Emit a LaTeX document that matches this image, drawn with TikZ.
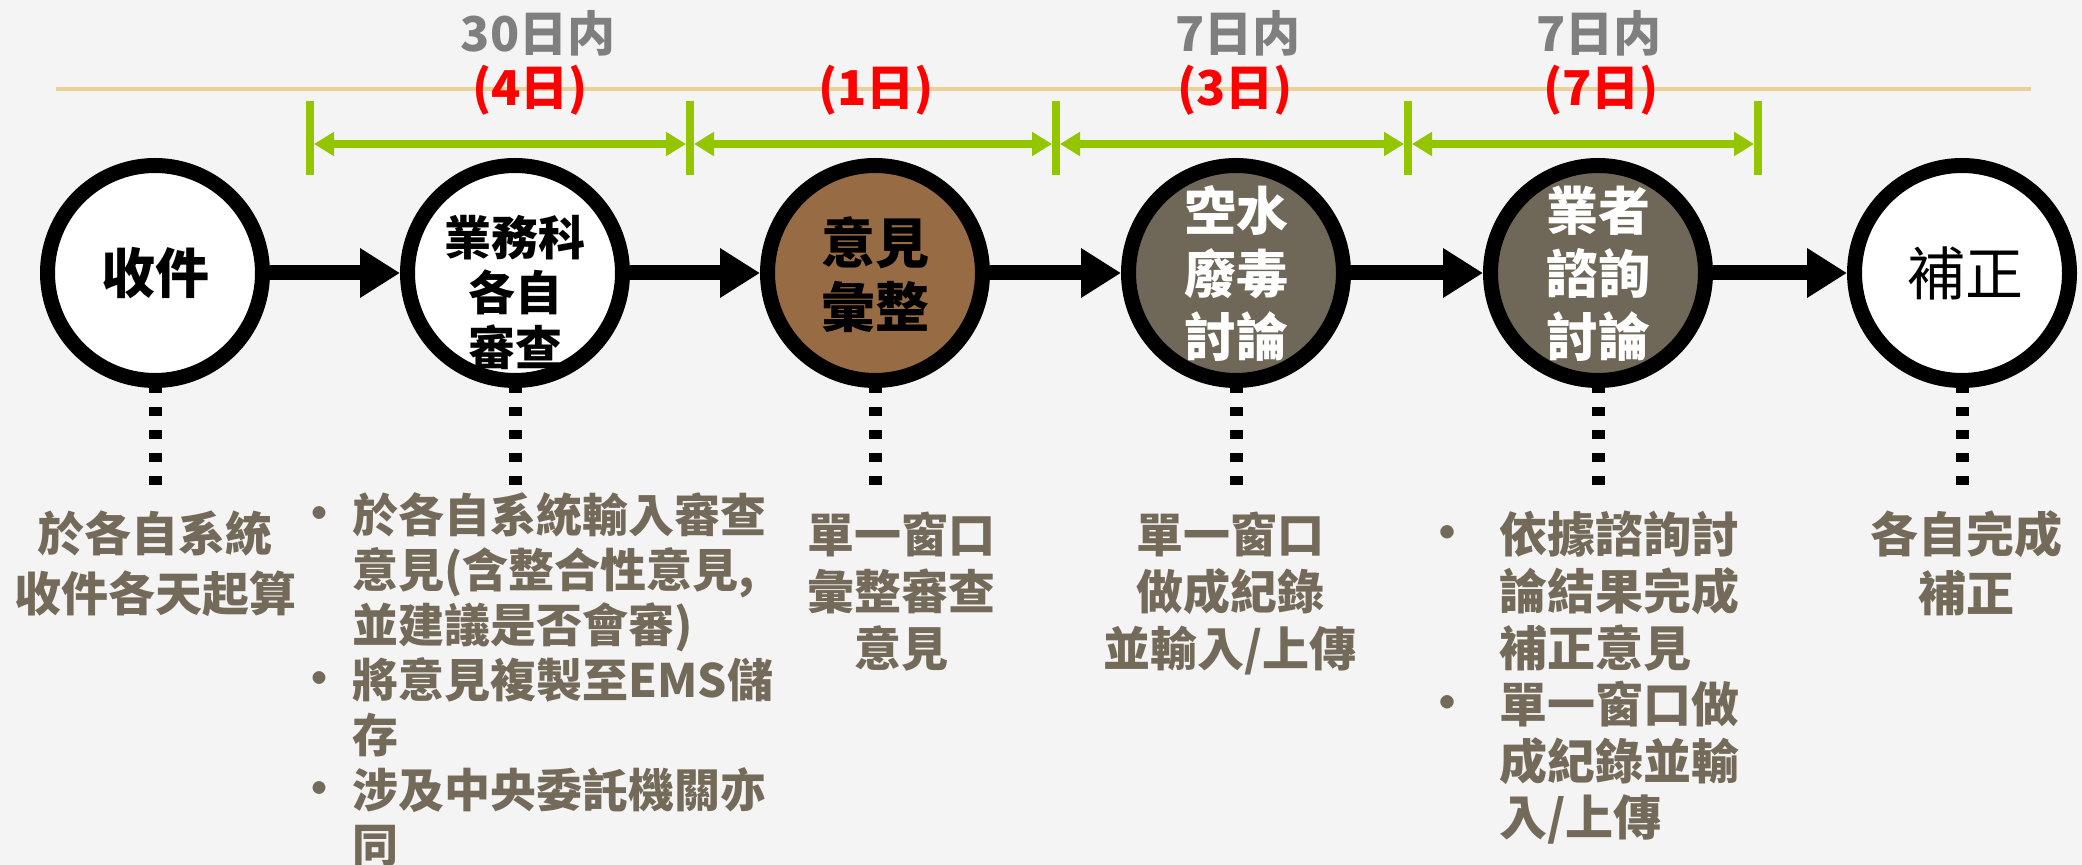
\documentclass[tikz,border=0pt]{standalone}
\usepackage{fontspec}
\setmainfont{Noto Sans CJK TC}
\usetikzlibrary{arrows.meta}
\definecolor{bgc}{HTML}{F4F4F4}
\definecolor{txtc}{HTML}{746A5A}
\definecolor{brownc}{HTML}{976B43}
\definecolor{taupec}{HTML}{6F6757}
\definecolor{greenc}{HTML}{94C600}
\definecolor{tanc}{HTML}{EBD196}
\definecolor{grayc}{HTML}{7F7F7F}
\definecolor{redc}{HTML}{FF0000}
\newcommand\bulA{\makebox[0pt][r]{\raisebox{1pt}{\textbullet}\hspace{5pt}}}
\newcommand\bulB{\makebox[0pt][r]{\raisebox{1pt}{\textbullet}\hspace{14pt}}}
\tikzset{
  fz/.style 2 args={font=\fontsize{#1}{#2}\selectfont\bfseries},
  stage/.style={circle, draw=black, line width=7.5pt, minimum size=107.5pt, inner sep=0pt, fill=white},
  ctext/.style={align=center, inner sep=0pt},
  flow/.style={line width=7.5pt, -{Triangle[length=20pt,width=23.5pt]}},
  dotl/.style={line width=6.5pt, dash pattern=on 4.5pt off 7pt},
  gline/.style={greenc, line width=4pt, {Triangle[length=10pt,width=11.5pt]}-{Triangle[length=10pt,width=11.5pt]}},
  gtick/.style={greenc, line width=4pt},
  tanline/.style={tanc, line width=1.75pt},
  hdrlbl/.style={text=grayc, inner sep=0pt, fz={24pt}{28pt}},
  redlbl/.style={text=redc, inner sep=0pt, fz={24pt}{28pt}},
  desc/.style={text=txtc, inner sep=0pt},
}
\begin{document}
\begin{tikzpicture}[x=0.5pt,y=-0.5pt]
\useasboundingbox[fill=bgc] (0,0) rectangle (2082,865);

% top tan line
\coordinate (tl) at (56,89);
\coordinate (tr) at (2031,89);
\draw[tanline] (tl) -- (tr);

% green brackets
\foreach \i/\x in {1/310,2/690,3/1056,4/1408,5/1758}{
  \coordinate (g\i) at (\x,144);
  \coordinate (gt\i) at (\x,101);
  \coordinate (gb\i) at (\x,175);
  \draw[gtick] (gt\i) -- (gb\i);
}
\draw[gline] ([xshift=2pt]g1) -- ([xshift=-2pt]g2);
\draw[gline] ([xshift=2pt]g2) -- ([xshift=-2pt]g3);
\draw[gline] ([xshift=2pt]g3) -- ([xshift=-2pt]g4);
\draw[gline] ([xshift=2pt]g4) -- ([xshift=-2pt]g5);

% header labels
\node[hdrlbl] (h30) at (538,33) {30日内};
\node[hdrlbl] (h7a) at (1238,33) {7日内};
\node[hdrlbl] (h7b) at (1599,33) {7日内};
\node[redlbl] (r4) at (530,90) {(4日)};
\node[redlbl] (r1) at (876,90) {(1日)};
\node[redlbl] (r3) at (1235,90) {(3日)};
\node[redlbl] (r7) at (1601,90) {(7日)};

% dotted drop lines (behind circles)
\foreach \i/\x in {1/155,2/515,3/875,4/1236,5/1598,6/1962}{
  \coordinate (d\i) at (\x,487);
  \coordinate (u\i) at (\x,384);
  \draw[dotl] (u\i) -- (d\i);
}

% circles
\node[stage] (c1) at (155,273) {};
\node[stage] (c2) at (515,273) {};
\node[stage, fill=brownc] (c3) at (875,273) {};
\node[stage, fill=taupec] (c4) at (1236,273) {};
\node[stage, fill=taupec] (c5) at (1598,273) {};
\node[stage] (c6) at (1962,273) {};

\node[ctext, fz={27pt}{32pt}] (t1) at (c1.center) {收件};
\node[ctext, fz={23.5pt}{27.5pt}] (t2) at ([yshift=-10pt]c2.center) {業務科\\各自\\審查};
\node[ctext, fz={27pt}{32pt}] (t3) at ([yshift=-1pt]c3.center) {意見\\彙整};
\node[ctext, fz={26pt}{31.5pt}, text=white] (t4) at ([yshift=-0.5pt]c4.center) {空水\\廢毒\\討論};
\node[ctext, fz={26pt}{31.5pt}, text=white] (t5) at ([yshift=-0.5pt]c5.center) {業者\\諮詢\\討論};
\node[ctext, font=\fontsize{29pt}{34pt}\selectfont] (t6) at ([xshift=1.5pt]c6.center) {補正};

% flow arrows
\draw[flow] (c1.east) -- (c2.west);
\draw[flow] (c2.east) -- (c3.west);
\draw[flow] (c3.east) -- (c4.west);
\draw[flow] (c4.east) -- (c5.west);
\draw[flow] (c5.east) -- (c6.west);

% descriptions
\node[desc, align=center, fz={23.5pt}{30pt}] (b1) at (155,564) {於各自系統\\收件各天起算};
\node[desc, align=left, anchor=west, fz={23pt}{27.5pt}] (b2) at (352,680)
  {\bulA 於各自系統輸入審查\\意見(含整合性意見,\\並建議是否會審)\\\bulA 將意見複製至EMS儲\\存\\\bulA 涉及中央委託機關亦\\同};
\node[desc, align=center, fz={23.5pt}{28.5pt}] (b3) at (901,592) {單一窗口\\彙整審查\\意見};
\node[desc, align=center, fz={23.5pt}{28.5pt}] (b4) at (1230,594) {單一窗口\\做成紀錄\\並輸入/上傳};
\node[desc, align=left, anchor=west, fz={24pt}{28.3pt}] (b5) at (1499,678)
  {\bulB 依據諮詢討\\論結果完成\\補正意見\\\bulB 單一窗口做\\成紀錄並輸\\入/上傳};
\node[desc, align=center, fz={24pt}{29.5pt}] (b6) at (1966,563) {各自完成\\補正};
\end{tikzpicture}
\end{document}
